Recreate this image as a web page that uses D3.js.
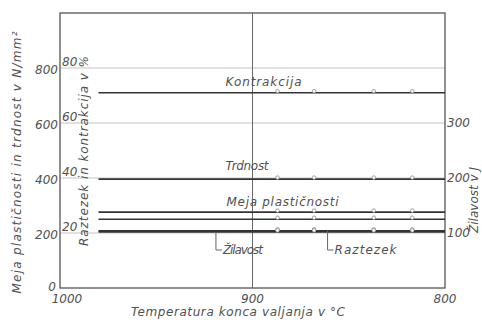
<!DOCTYPE html>
<html>
<head>
<meta charset="utf-8">
<script src="https://cdn.jsdelivr.net/npm/d3@7/dist/d3.min.js"></script>
<style>
  html, body { margin: 0; padding: 0; background: #fff; }
  svg text { font-family: "DejaVu Sans", sans-serif; font-style: italic; fill: #505050; }
</style>
</head>
<body>
<svg id="chart" width="482" height="320"></svg>
<script>
// Final rolling temperature (°C) at which the samples were measured
const temps = [980, 887, 868, 837, 817, 800];

// Mechanical properties per temperature
const kontrakcija = [71, 71, 71, 71, 71, 71];          // %
const trdnost = [396, 396, 396, 396, 396, 396];        // N/mm²
const mejaZgornja = [276, 276, 276, 276, 276, 276];    // N/mm², upper yield point
const mejaSpodnja = [250, 250, 250, 250, 250, 250];    // N/mm², lower yield point
const raztezek = [20.8, 20.8, 20.8, 20.8, 20.8, 20.8]; // %
const zilavost = [102, 102, 102, 102, 102, 102];       // J

// Tick labels
const xTicks = [1000, 900, 800];
const leftTicks = [0, 200, 400, 600, 800];
const pctTicks = [20, 40, 60, 80];
const rightTicks = [100, 200, 300];

const svg = d3.select("#chart");
const W = 482, H = 320;
const m = { left: 60, right: 37, top: 13, bottom: 32 };
const x0 = m.left, x1 = W - m.right, y0 = H - m.bottom, y1 = m.top;

const x = d3.scaleLinear().domain([1000, 800]).range([x0, x1]);
const yL = d3.scaleLinear().domain([0, 1000]).range([y0, y1]);
const yP = d3.scaleLinear().domain([0, 100]).range([y0, y1]);
const yR = d3.scaleLinear().domain([0, 500]).range([y0, y1]);

// Grid
const grid = svg.append("g");
grid.selectAll("line.h").data([200, 400, 600, 800]).join("line")
  .attr("x1", x0).attr("x2", x1)
  .attr("y1", d => yL(d)).attr("y2", d => yL(d))
  .attr("stroke", "#c4c4c4").attr("stroke-width", 1);
grid.append("line")
  .attr("x1", x(900)).attr("x2", x(900)).attr("y1", y1).attr("y2", y0)
  .attr("stroke", "#6a6a6a").attr("stroke-width", 1);

// Frame
svg.append("rect")
  .attr("x", x0).attr("y", y1).attr("width", x1 - x0).attr("height", y0 - y1)
  .attr("fill", "none").attr("stroke", "#555").attr("stroke-width", 1.3);

// Series
const series = [
  { vals: kontrakcija, y: yP },
  { vals: trdnost, y: yL },
  { vals: mejaZgornja, y: yL },
  { vals: mejaSpodnja, y: yL },
  { vals: raztezek, y: yP },
  { vals: zilavost, y: yR }
];

const line = s => d3.line().x((d, i) => x(temps[i])).y(d => s.y(d))(s.vals);
const gs = svg.append("g");
series.forEach(s => {
  gs.append("path").attr("d", line(s))
    .attr("fill", "none").attr("stroke", "#333").attr("stroke-width", 1.7);
  gs.selectAll(null).data(s.vals.slice(1, -1)).join("circle")
    .attr("cx", (d, i) => x(temps[i + 1]))
    .attr("cy", d => s.y(d) - 1.5)
    .attr("r", 1.8)
    .attr("fill", "#fff").attr("stroke", "#8a8a8a").attr("stroke-width", 0.8);
});

// Axis tick labels
const fs = 12;
svg.append("g").selectAll("text").data(leftTicks).join("text")
  .attr("x", d => d === 0 ? x0 - 4 : x0 - 2)
  .attr("y", d => yL(d) + (d === 0 ? 3 : 6))
  .attr("text-anchor", "end").attr("font-size", fs).text(d => d);

svg.append("g").selectAll("text").data(pctTicks).join("text")
  .attr("x", x0 + 2).attr("y", d => yP(d) - 2)
  .attr("font-size", fs).text(d => d);

svg.append("g").selectAll("text").data(rightTicks).join("text")
  .attr("x", x1 + 2).attr("y", d => yR(d) + 4)
  .attr("font-size", fs).text(d => d);

svg.append("g").selectAll("text").data(xTicks).join("text")
  .attr("x", d => x(d) + (d === 1000 ? 7 : 0))
  .attr("y", y0 + 15)
  .attr("text-anchor", "middle").attr("font-size", fs)
  .text(d => d);

// Axis titles
svg.append("text")
  .attr("transform", `translate(21, ${(y0 + y1) / 2 + 12}) rotate(-90)`)
  .attr("text-anchor", "middle").attr("font-size", fs)
  .attr("textLength", 262).attr("lengthAdjust", "spacing")
  .text("Meja plastičnosti in trdnost v N/mm²");

svg.append("text")
  .attr("transform", `translate(88, 151) rotate(-90)`)
  .attr("text-anchor", "middle").attr("font-size", fs)
  .attr("textLength", 190).attr("lengthAdjust", "spacing")
  .text("Raztezek in kontrakcija v %");

svg.append("text")
  .attr("transform", `translate(478, 200) rotate(-90)`)
  .attr("text-anchor", "middle").attr("font-size", fs)
  .text("Žilavost v J");

svg.append("text")
  .attr("x", 238).attr("y", y0 + 28)
  .attr("text-anchor", "middle").attr("font-size", fs)
  .attr("textLength", 214).attr("lengthAdjust", "spacing")
  .text("Temperatura konca valjanja v °C");

// Series labels
const labels = [
  { text: "Kontrakcija", t: 914, y: yP(kontrakcija[1]) - 7, len: 76 },
  { text: "Trdnost", t: 914, y: yL(trdnost[1]) - 9, len: 43 },
  { text: "Meja plastičnosti", t: 913.5, y: yL(mejaZgornja[1]) - 6, len: 112 }
];
svg.append("g").selectAll("text").data(labels).join("text")
  .attr("x", d => x(d.t)).attr("y", d => d.y)
  .attr("font-size", fs)
  .attr("textLength", d => d.len).attr("lengthAdjust", "spacing")
  .text(d => d.text);

// Leader-line labels below the bottom lines
const leaders = [
  { text: "Žilavost", t: 919, y: yR(zilavost[1]), len: 40 },
  { text: "Raztezek", t: 861, y: yP(raztezek[1]), len: 62 }
];
leaders.forEach(d => {
  const lx = x(d.t), ly = 250;
  svg.append("path")
    .attr("d", `M${lx},${d.y}V${ly}H${lx + 6}`)
    .attr("fill", "none").attr("stroke", "#666").attr("stroke-width", 1);
  svg.append("text")
    .attr("x", lx + 7).attr("y", ly + 4)
    .attr("font-size", fs)
    .attr("textLength", d.len).attr("lengthAdjust", "spacing")
    .text(d.text);
});
</script>
</body>
</html>
